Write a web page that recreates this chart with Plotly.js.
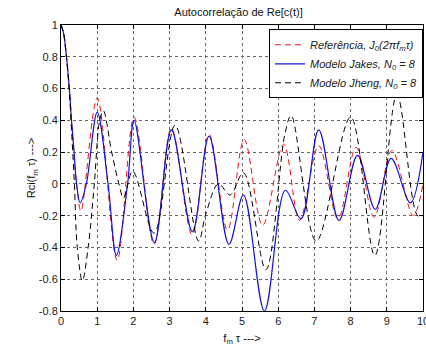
<!DOCTYPE html>
<html>
<head>
<meta charset="utf-8">
<script src="https://cdn.plot.ly/plotly-3.0.1.min.js"></script>
<style>html,body{margin:0;padding:0;background:#fff;}#chart{width:426px;height:346px;}</style>
</head>
<body>
<div id="chart"></div>
<script>
// Reference J0(2*pi*fm*tau) curve (red dashed)
var refX = [0, 0.07, 0.15, 0.23, 0.29, 0.36, 0.43, 0.55, 1.0, 1.55, 2.02, 2.57, 3.05, 3.62, 4.09, 4.6, 5.06, 5.57, 6.15, 6.59, 7.12, 7.65, 8.15, 8.65, 9.14, 9.73, 10];
var refY = [1, 0.95, 0.8, 0.6, 0.4, 0.2, 0.0, -0.17, 0.54, -0.48, 0.42, -0.38, 0.35, -0.32, 0.31, -0.29, 0.28, -0.26, 0.25, -0.23, 0.24, -0.22, 0.23, -0.21, 0.21, -0.2, 0.0];

// Jakes model, N0 = 8 (blue solid)
var jakesX = [0, 0.07, 0.15, 0.23, 0.29, 0.36, 0.43, 0.53, 0.7, 1.0, 1.3, 1.53, 1.84, 2.02, 2.58, 3.05, 3.63, 4.09, 4.64, 5.04, 5.62, 6.2, 6.63, 7.12, 7.68, 8.19, 8.68, 9.12, 9.65, 10];
var jakesY = [1, 0.95, 0.8, 0.6, 0.4, 0.2, 0.0, -0.12, 0.0, 0.45, 0.0, -0.45, 0.0, 0.40, -0.37, 0.34, -0.30, 0.30, -0.38, -0.07, -0.80, -0.04, -0.22, 0.34, -0.23, 0.18, -0.16, 0.16, -0.12, 0.2];

// Jheng model, N0 = 8 (black dashed)
var jhengX = [0, 0.07, 0.15, 0.23, 0.3, 0.37, 0.45, 0.59, 0.75, 0.92, 1.07, 1.17, 1.4, 1.6, 1.73, 1.98, 2.57, 3.15, 3.8, 4.0, 4.35, 4.67, 5.04, 5.66, 6.19, 6.36, 7.05, 8.0, 8.67, 9.28, 9.85, 10];
var jhengY = [1, 0.95, 0.8, 0.58, 0.3, 0.0, -0.4, -0.61, -0.4, 0.0, 0.4, 0.46, 0.2, 0.0, -0.09, 0.08, -0.31, 0.37, -0.36, -0.19, 0.0, -0.07, 0.07, -0.54, 0.32, 0.43, -0.36, 0.42, -0.45, 0.56, -0.2, -0.2];

var xTicks = [0, 1, 2, 3, 4, 5, 6, 7, 8, 9, 10];
var yTicks = [-0.8, -0.6, -0.4, -0.2, 0, 0.2, 0.4, 0.6, 0.8, 1];
var yTickText = ["-0.8", "-0.6", "-0.4", "-0.2", "0", "0.2", "0.4", "0.6", "0.8", "1"];

var names = ["Referência, J<sub>0</sub>(2πf<sub>m</sub>τ)", "Modelo Jakes, N<sub>0</sub> = 8", "Modelo Jheng, N<sub>0</sub> = 8"];

var FONT = "Liberation Sans, Arial, sans-serif";

var traces = [
  {x: refX, y: refY, name: names[0], mode: "lines", line: {color: "rgb(230,20,20)", width: 1, dash: "6px,4px", shape: "spline", smoothing: 1}},
  {x: jakesX, y: jakesY, name: names[1], mode: "lines", line: {color: "rgb(20,20,210)", width: 1.2, shape: "spline", smoothing: 1}},
  {x: jhengX, y: jhengY, name: names[2], mode: "lines", line: {color: "black", width: 1, dash: "6px,4px", shape: "spline", smoothing: 1}}
];

var axisCommon = {
  showline: true, linecolor: "black", linewidth: 1, mirror: "ticks",
  ticks: "inside", ticklen: 4, tickcolor: "black",
  showgrid: true, gridcolor: "#666", griddash: "dot", gridwidth: 1,
  zeroline: false,
  tickfont: {family: FONT, size: 11, color: "#222"}
};

var layout = {
  width: 426, height: 346,
  paper_bgcolor: "white", plot_bgcolor: "white",
  margin: {l: 61, r: 3, t: 25, b: 35},
  title: {text: "Autocorrelação de Re[c(t)]", x: 0.56, xanchor: "center", y: 0.965, yanchor: "middle", yref: "container",
          font: {family: FONT, size: 11, color: "#111"}},
  xaxis: Object.assign({}, axisCommon, {range: [0, 10], tickvals: xTicks, ticktext: xTicks.map(String),
          title: {text: "f<sub>m</sub> τ --->", standoff: 9, font: {family: FONT, size: 11, color: "#111"}}}),
  yaxis: Object.assign({}, axisCommon, {range: [-0.8, 1], tickvals: yTicks, ticktext: yTickText,
          title: {text: "Rci(f<sub>m</sub> τ) --->", standoff: 0, font: {family: FONT, size: 11, color: "#111"}}}),
  annotations: [
    {text: String(xTicks[xTicks.length - 1]), x: xTicks[xTicks.length - 1], xref: "x", y: 0, yref: "paper",
     yanchor: "top", xanchor: "center", yshift: -2, showarrow: false, font: {family: FONT, size: 11, color: "#222"}}
  ],
  showlegend: true,
  legend: {x: 1, xanchor: "right", y: 0.985, yanchor: "top", bgcolor: "white", bordercolor: "black", borderwidth: 1,
           font: {family: FONT, size: 11, style: "italic", color: "#222"},
           tracegroupgap: 0}
};

Plotly.newPlot("chart", traces, layout, {displayModeBar: false, staticPlot: true});
</script>
</body>
</html>
